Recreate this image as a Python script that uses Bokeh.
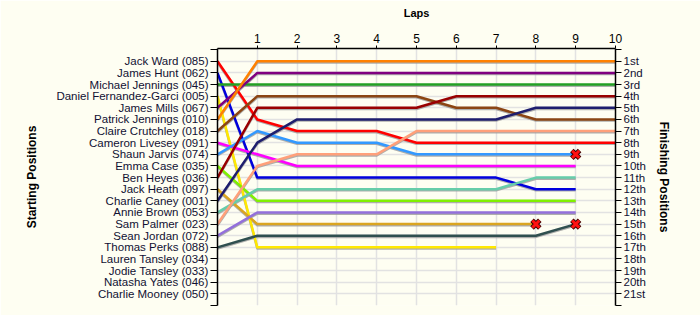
from bokeh.plotting import figure
from bokeh.models import LinearAxis, FixedTicker, Range1d, ColumnDataSource
from bokeh.embed import file_html
from bokeh.resources import INLINE

# ---------------- data ----------------
starting_names = [
    "Jack Ward (085)", "James Hunt (062)", "Michael Jennings (045)",
    "Daniel Fernandez-Garci (005)", "James Mills (067)", "Patrick Jennings (010)",
    "Claire Crutchley (018)", "Cameron Livesey (091)", "Shaun Jarvis (074)",
    "Emma Case (035)", "Ben Heyes (036)", "Jack Heath (097)", "Charlie Caney (001)",
    "Annie Brown (053)", "Sam Palmer (023)", "Sean Jordan (072)", "Thomas Perks (088)",
    "Lauren Tansley (034)", "Jodie Tansley (033)", "Natasha Yates (046)",
    "Charlie Mooney (050)",
]
finishing_labels = ["1st", "2nd", "3rd", "4th", "5th", "6th", "7th", "8th", "9th",
                    "10th", "11th", "12th", "13th", "14th", "15th", "16th", "17th",
                    "18th", "19th", "20th", "21st"]
lap_ticks = [1, 2, 3, 4, 5, 6, 7, 8, 9, 10]

# position of each driver at lap 0, 1, 2, ... (until last lap completed)
jack_ward        = [1, 6, 7, 7, 7, 8, 8, 8, 8, 8, 8]
james_hunt       = [2, 11, 11, 11, 11, 11, 11, 11, 12, 12]
michael_jennings = [3, 3, 3, 3, 3, 3, 3, 3, 3, 3, 3]
daniel_fg        = [4, 17, 17, 17, 17, 17, 17, 17]
james_mills      = [5, 2, 2, 2, 2, 2, 2, 2, 2, 2, 2]
patrick_jennings = [6, 1, 1, 1, 1, 1, 1, 1, 1, 1, 1]
claire_crutchley = [7, 4, 4, 4, 4, 4, 5, 5, 6, 6, 6]
cameron_livesey  = [8, 9, 10, 10, 10, 10, 10, 10, 10, 10]
shaun_jarvis     = [9, 7, 8, 8, 8, 9, 9, 9, 9, 9]
emma_case        = [10, 13, 13, 13, 13, 13, 13, 13, 13, 13]
ben_heyes        = [11, 5, 5, 5, 5, 5, 4, 4, 4, 4, 4]
jack_heath       = [12, 15, 15, 15, 15, 15, 15, 15, 15]
charlie_caney    = [13, 8, 6, 6, 6, 6, 6, 6, 5, 5, 5]
annie_brown      = [14, 12, 12, 12, 12, 12, 12, 12, 11, 11]
sam_palmer       = [15, 10, 9, 9, 9, 7, 7, 7, 7, 7, 7]
sean_jordan      = [16, 14, 14, 14, 14, 14, 14, 14, 14, 14]
thomas_perks     = [17, 16, 16, 16, 16, 16, 16, 16, 16, 15]

driver_positions = [jack_ward, james_hunt, michael_jennings, daniel_fg, james_mills,
                    patrick_jennings, claire_crutchley, cameron_livesey, shaun_jarvis,
                    emma_case, ben_heyes, jack_heath, charlie_caney, annie_brown,
                    sam_palmer, sean_jordan, thomas_perks]
driver_colors = ["#FF0000", "#0000DD", "#22A022", "#FFE800", "#800080", "#FF8000",
                 "#8B4513", "#FF00FF", "#3399FF", "#80F000", "#990000", "#DAA520",
                 "#1E1E6E", "#66CDAA", "#FFA07A", "#9370DB", "#2F4F4F"]
driver_retired = [False, False, False, False, False, False, False, False, True,
                  False, False, True, False, False, False, False, True]

# ---------------- figure ----------------
BG = "#FEFEF2"
FONT = "Liberation Sans"
pos_ticks = list(range(0, 23))

p = figure(width=700, height=315, output_backend="svg", toolbar_location=None,
           x_range=Range1d(0, 10), y_range=Range1d(22, -0.1),
           x_axis_location="above", y_axis_location="left",
           min_border_left=217, min_border_right=85, min_border_top=48,
           min_border_bottom=10)
p.background_fill_color = BG
p.border_fill_color = BG
p.outline_line_color = None

# grid
p.xgrid.ticker = FixedTicker(ticks=list(range(0, 11)))
p.ygrid.ticker = FixedTicker(ticks=list(range(1, 22)))
p.xgrid.grid_line_color = "#E2E2E2"
p.ygrid.grid_line_color = "#E2E2E2"
p.xgrid.grid_line_width = 1.5
p.ygrid.grid_line_width = 1.5

# top axis
xa = p.xaxis[0]
xa.ticker = FixedTicker(ticks=lap_ticks)
xa.axis_label = "Laps"
xa.axis_label_text_font = FONT
xa.axis_label_text_font_style = "bold"
xa.axis_label_text_font_size = "11px"
xa.axis_label_text_color = "black"
xa.axis_label_standoff = 12
xa.major_label_text_font = FONT
xa.major_label_text_font_size = "12px"
xa.major_label_text_color = "black"
xa.major_label_standoff = 3
xa.major_tick_out = 3
xa.major_tick_in = 0
xa.minor_tick_line_color = None
xa.axis_line_width = 1.5
xa.axis_line_color = "black"
xa.major_tick_line_color = "black"

labels_left = {i + 1: n for i, n in enumerate(starting_names)}
labels_left.update({0: "", 22: ""})
labels_right = {i + 1: n for i, n in enumerate(finishing_labels)}
labels_right.update({0: "", 22: ""})

# left axis
ya = p.yaxis[0]
ya.ticker = FixedTicker(ticks=pos_ticks)
ya.major_label_overrides = labels_left
ya.axis_label = "Starting Positions"
ya.axis_label_text_font = FONT
ya.axis_label_text_font_style = "bold"
ya.axis_label_text_font_size = "12px"
ya.axis_label_text_color = "black"
ya.axis_label_standoff = 14
ya.major_label_text_font = FONT
ya.major_label_text_font_size = "11.5px"
ya.major_label_text_color = "#111133"
ya.major_label_standoff = 2
ya.major_tick_out = 7
ya.major_tick_in = 0
ya.minor_tick_line_color = None
ya.axis_line_width = 1.5
ya.major_tick_line_color = "black"

# right axis
ra = LinearAxis(ticker=FixedTicker(ticks=pos_ticks))
ra.major_label_overrides = labels_right
ra.axis_label = "Finishing Positions"
ra.axis_label_text_font = FONT
ra.axis_label_text_font_style = "bold"
ra.axis_label_text_font_size = "12px"
ra.axis_label_text_color = "black"
ra.axis_label_standoff = 8
ra.major_label_text_font = FONT
ra.major_label_text_font_size = "11.5px"
ra.major_label_text_color = "#111133"
ra.major_label_standoff = 2
ra.major_tick_out = 6
ra.major_tick_in = 0
ra.minor_tick_line_color = None
ra.axis_line_width = 1.5
p.add_layout(ra, "right")

# lines (with a soft drop shadow)
SHADOW = 0.1
for pos, col in zip(driver_positions, driver_colors):
    laps = list(range(len(pos)))
    p.line(laps, [v + SHADOW for v in pos], line_color="#9A9A9A", line_width=2.5,
           line_alpha=0.8, line_join="round")
for pos, col in zip(driver_positions, driver_colors):
    laps = list(range(len(pos)))
    p.line(laps, pos, line_color=col, line_width=2.5, line_join="round")

# retirement markers
ret_x = [len(pos) - 1 for pos, r in zip(driver_positions, driver_retired) if r]
ret_y = [pos[-1] for pos, r in zip(driver_positions, driver_retired) if r]
src = ColumnDataSource(dict(x=ret_x, y=ret_y))
p.scatter("x", "y", source=src, marker="x", size=11, line_color="#400000", line_width=5)
p.scatter("x", "y", source=src, marker="x", size=10, line_color="#FF1010", line_width=3)

open("out.html", "w").write(file_html(p, INLINE))
